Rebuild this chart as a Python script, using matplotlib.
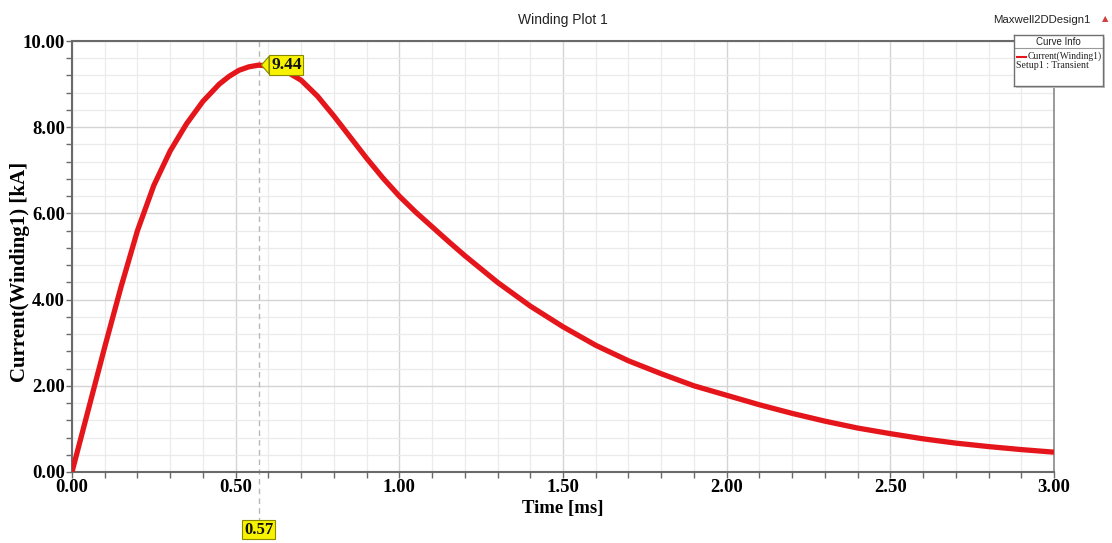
import matplotlib
matplotlib.use("Agg")
import matplotlib.pyplot as plt
from matplotlib.ticker import MultipleLocator, FormatStrFormatter
from matplotlib.transforms import blended_transform_factory
from matplotlib.patches import Rectangle
from matplotlib import font_manager

# Winding current over time (ms, kA)
time_ms = [0.00, 0.05, 0.10, 0.15, 0.20, 0.25, 0.30, 0.35, 0.40, 0.45, 0.48,
           0.51, 0.54, 0.57, 0.60, 0.63, 0.66, 0.70, 0.75, 0.80, 0.85, 0.90,
           0.95, 1.00, 1.05, 1.10, 1.15, 1.20, 1.30, 1.40, 1.50, 1.60, 1.70,
           1.80, 1.90, 2.00, 2.10, 2.20, 2.30, 2.40, 2.50, 2.60, 2.70, 2.80,
           2.90, 3.00]
current_ka = [0.00, 1.45, 2.90, 4.30, 5.60, 6.65, 7.45, 8.08, 8.60, 9.00, 9.18,
              9.32, 9.40, 9.44, 9.42, 9.37, 9.27, 9.09, 8.72, 8.26, 7.77, 7.28,
              6.82, 6.40, 6.03, 5.69, 5.35, 5.02, 4.40, 3.85, 3.37, 2.94, 2.58,
              2.28, 2.00, 1.78, 1.56, 1.36, 1.18, 1.02, 0.89, 0.77, 0.67, 0.59,
              0.52, 0.46]

peak_time = 0.57
peak_value = 9.44

x_ticks = [0.0, 0.5, 1.0, 1.5, 2.0, 2.5, 3.0]
y_ticks = [0.0, 2.0, 4.0, 6.0, 8.0, 10.0]

available = {f.name for f in font_manager.fontManager.ttflist}
narrow = "Liberation Sans Narrow" if "Liberation Sans Narrow" in available else "Liberation Sans"
serif = "Liberation Serif"

W, H = 1112, 543
fig = plt.figure(figsize=(W / 100, H / 100), dpi=100)
ax = fig.add_axes([72 / W, 1 - 472 / H, 982 / W, 431 / H])

ax.set_xlim(0, 3.0)
ax.set_ylim(0, 10.0)
ax.set_xticks(x_ticks)
ax.set_yticks(y_ticks)
ax.xaxis.set_minor_locator(MultipleLocator(0.1))
ax.yaxis.set_minor_locator(MultipleLocator(0.4))
ax.xaxis.set_major_formatter(FormatStrFormatter("%.2f"))
ax.yaxis.set_major_formatter(FormatStrFormatter("%.2f"))

ax.grid(which="major", color="#d4d4d4", linewidth=1.0)
ax.grid(which="minor", color="#ebebeb", linewidth=0.9)
ax.set_axisbelow(True)

for sp in ax.spines.values():
    sp.set_color("#6a6a6a")
    sp.set_linewidth(1.5)
ax.spines["right"].set_color("#8a8a8a")
ax.spines["right"].set_linewidth(1.2)

ax.tick_params(which="both", direction="out", colors="#6a6a6a", length=4, width=1)
ax.tick_params(which="major", labelcolor="black", pad=1)
for lab in ax.get_xticklabels() + ax.get_yticklabels():
    lab.set_fontfamily(serif)
    lab.set_fontweight("bold")
    lab.set_fontsize(13.5)

ax.plot(time_ms, current_ka, color="#e5161b", linewidth=3.8, solid_capstyle="butt",
        solid_joinstyle="round", zorder=3)

# Cursor line at the peak, running down past the axis to its time readout
bt = blended_transform_factory(ax.transData, ax.transAxes)
ax.plot([peak_time, peak_time], [1.0, -0.112], transform=bt, color="#b8b8b8",
        linestyle=(0, (4, 3)), linewidth=1.0, clip_on=False, zorder=2)

ax.text(peak_time, -0.134, f"{peak_time:.2f}", transform=bt, ha="center", va="center",
        fontfamily=serif, fontweight="bold", fontsize=12, color="#111111",
        bbox=dict(boxstyle="square,pad=0.1", fc="#f7f200", ec="#8a8a00", lw=0.8),
        clip_on=False, zorder=5)

ax.annotate(f"{peak_value:.2f}", xy=(peak_time, peak_value), xytext=(9, 0),
            textcoords="offset points", ha="left", va="center",
            fontfamily=serif, fontweight="bold", fontsize=12.5, color="#111111",
            bbox=dict(boxstyle="square,pad=0.1", fc="#f7f200", ec="#8a8a00", lw=0.8),
            arrowprops=dict(arrowstyle="wedge,tail_width=1.0,shrink_factor=0.5",
                            fc="#f7f200", ec="#8a8a00", lw=0.8,
                            shrinkA=0, shrinkB=2),
            zorder=6)

ax.set_xlabel("Time [ms]", fontfamily=serif, fontweight="bold", fontsize=13.5, labelpad=3)
ax.set_ylabel("Current(Winding1) [kA]", fontfamily=serif, fontweight="bold",
              fontsize=15)
ax.yaxis.set_label_coords((30 - 72) / 982, (472 - 272) / 431)

fig.text(563 / W, 1 - 20 / H, "Winding Plot 1", ha="center", va="center",
         fontfamily=narrow, fontsize=10, color="#222222")
fig.text(1091 / W, 1 - 20 / H, "Maxwell2DDesign1", ha="right", va="center",
         fontfamily=narrow, fontsize=8.2, color="#222222")
fig.text(1105 / W, 1 - 19 / H, "\u25b2", ha="center", va="center", fontfamily="DejaVu Sans",
         fontsize=6, color="#d04040")

# Curve info box with a soft drop shadow
fig.patches.append(Rectangle((1016 / W, 1 - 88 / H), 89 / W, 51 / H,
                             transform=fig.transFigure, fc="#c8c8c8", ec="none",
                             zorder=4))
box_ax = fig.add_axes([1014 / W, 1 - 86 / H, 89 / W, 51 / H])
box_ax.set_zorder(5)
box_ax.set_xlim(0, 89)
box_ax.set_ylim(51, 0)
box_ax.set_xticks([])
box_ax.set_yticks([])
for sp in box_ax.spines.values():
    sp.set_color("#707070")
    sp.set_linewidth(1.0)
box_ax.patch.set_facecolor("white")
box_ax.text(44.5, 7, "Curve Info", ha="center", va="center", fontfamily=narrow,
            fontsize=7, color="#222222")
box_ax.plot([0, 89], [13, 13], color="#9a9a9a", linewidth=0.8)
box_ax.plot([3, 12], [22, 22], color="#e5161b", linewidth=1.5)
box_ax.text(13.5, 21.5, "Current(Winding1)", ha="left", va="center", fontfamily=serif,
            fontsize=6.9, color="#222222")
box_ax.text(2, 31, "Setup1 : Transient", ha="left", va="center", fontfamily=serif,
            fontsize=7.1, color="#222222")

fig.savefig("out.png", dpi=100, facecolor="white")
